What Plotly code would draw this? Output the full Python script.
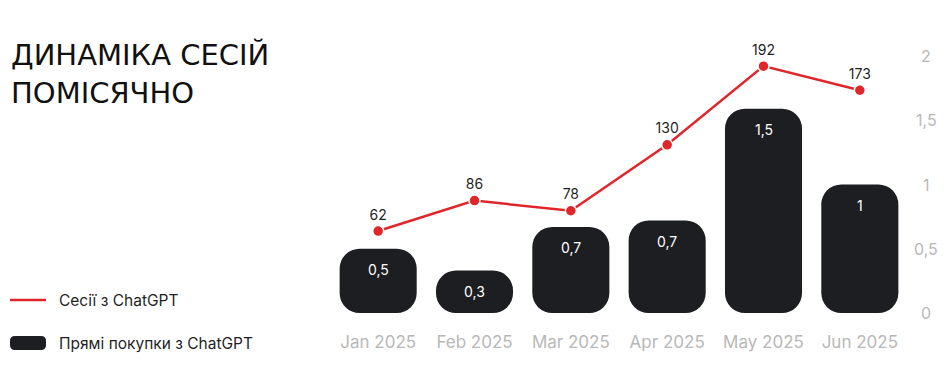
import plotly.graph_objects as go

months = ["Jan 2025", "Feb 2025", "Mar 2025", "Apr 2025", "May 2025", "Jun 2025"]
sessions = [62, 86, 78, 130, 192, 173]
purchases = [0.5, 0.33, 0.67, 0.72, 1.59, 1.0]
purchase_labels = ["0,5", "0,3", "0,7", "0,7", "1,5", "1"]
right_ticks = [0, 0.5, 1, 1.5, 2]
right_tick_labels = ["0", "0,5", "1", "1,5", "2"]

BAR = "#1d1e22"
RED = "#e0262b"
GRAY = "#b8b8b8"
TXT = "#1f1f1f"
FONT = "Inter"

OFF = 8  # page body margin
W, H = 950, 368
L, R, T, B = 322, 50, 48, 63
PW, PH = W - L - R, H - T - B


def px(x):
    return (x - OFF - L) / PW


def py(y):
    return (H - B - (y - OFF)) / PH


fig = go.Figure()
fig.add_bar(x=months, y=purchases, base=[0] * len(purchases),
            width=0.8, marker=dict(color=BAR, cornerradius=20, line=dict(width=0)),
            showlegend=False, name="Прямі покупки з ChatGPT")
fig.add_scatter(x=months, y=sessions, yaxis="y2", mode="lines+markers+text",
                text=[str(s) for s in sessions], textposition="top center",
                textfont=dict(family=FONT, size=14, color=TXT),
                line=dict(color=RED, width=2.5),
                marker=dict(color=RED, size=11, line=dict(color="white", width=1.5)),
                cliponaxis=False, showlegend=False, name="Сесії з ChatGPT")

ann = []
for m, v, lab in zip(months, purchases, purchase_labels):
    ann.append(dict(x=m, y=v, xref="x", yref="y", yshift=-21, text=lab, showarrow=False,
                    font=dict(family=FONT, size=14, color="white"), yanchor="middle"))
for t, lab in zip(right_ticks, right_tick_labels):
    ann.append(dict(x=px(926), y=t, xref="paper", yref="y", text=lab, showarrow=False,
                    xanchor="center", yanchor="middle",
                    font=dict(family=FONT, size=16, color=GRAY)))
ann.append(dict(x=px(9), y=py(36), xref="paper", yref="paper", xanchor="left", yanchor="top",
                align="left", showarrow=False,
                text="ДИНАМІКА СЕСІЙ<br>ПОМІСЯЧНО",
                font=dict(family="DejaVu Sans", size=29, color="#111111")))
ann.append(dict(x=px(57), y=py(300), xref="paper", yref="paper", xanchor="left", yanchor="middle",
                showarrow=False, text="Сесії з ChatGPT",
                font=dict(family=FONT, size=15.5, color=TXT)))
ann.append(dict(x=px(57), y=py(343), xref="paper", yref="paper", xanchor="left", yanchor="middle",
                showarrow=False, text="Прямі покупки з ChatGPT",
                font=dict(family=FONT, size=15.5, color=TXT)))

shapes = [
    dict(type="line", xref="paper", yref="paper", x0=px(10), x1=px(46), y0=py(300), y1=py(300),
         line=dict(color=RED, width=2.5)),
    dict(type="path", xref="paper", yref="paper", xsizemode="pixel", ysizemode="pixel",
         xanchor=px(10), yanchor=py(343),
         path="M5,-7 L31,-7 Q36,-7 36,-2 L36,2 Q36,7 31,7 L5,7 Q0,7 0,2 L0,-2 Q0,-7 5,-7 Z",
         fillcolor=BAR, line=dict(width=0)),
]

fig.update_layout(
    width=W, height=H, margin=dict(l=L, r=R, t=T, b=B),
    paper_bgcolor="white", plot_bgcolor="white",
    barmode="overlay", showlegend=False,
    font=dict(family=FONT),
    xaxis=dict(type="category", showgrid=False, zeroline=False, showline=False, ticks="",
               tickfont=dict(family=FONT, size=17, color=GRAY), ticklabelstandoff=17),
    yaxis=dict(range=[0, 2], showgrid=False, zeroline=False, showline=False,
               showticklabels=False, ticks=""),
    yaxis2=dict(range=[-2.6, 200], overlaying="y", side="right", visible=False),
    annotations=ann, shapes=shapes,
)

fig.write_html("out.html")
